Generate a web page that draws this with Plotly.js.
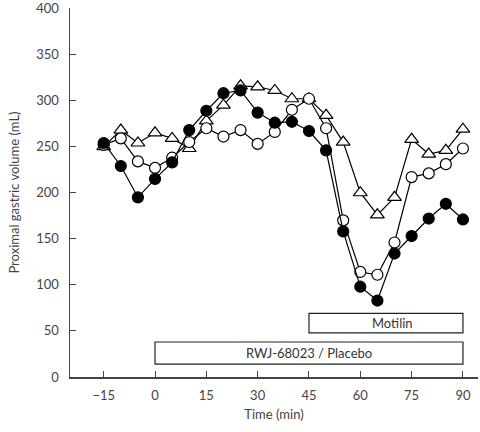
<!DOCTYPE html>
<html><head><meta charset="utf-8">
<script src="https://cdn.plot.ly/plotly-3.0.1.min.js"></script>
<style>html,body{margin:0;padding:0;background:#fff}</style>
</head><body><div id="chart" style="width:480px;height:432px"></div>
<script>
const time = [-15,-10,-5,0,5,10,15,20,25,30,35,40,45,50,55,60,65,70,75,80,85,90];
const filled = [254,229,195,215,233,268,289,308,311,287,276,277,267,246,158,98,83,134,153,172,188,171];
const open   = [252,259,234,227,238,255,270,261,268,253,266,290,302,270,170,114,111,146,217,221,231,248];
const tri    = [250,268,254,265,259,248,278,295,316,315,311,302,302,284,255,200,176,195,258,242,246,269];
const boxLabels = ["Motilin","RWJ-68023 / Placebo"];
const boxStart = [45, 0];
const boxEnd = [90, 90];
const boxLow = [48, 14];
const boxHigh = [69, 38];
const xTicks = [-15,0,15,30,45,60,75,90];
const xTickText = ["\u221215","0","15","30","45","60","75","90"];
const yTicks = [0,50,100,150,200,250,300,350,400];

const fontFam = "Lato, 'DejaVu Sans', sans-serif";
function tr(y, sym, fill) {
  return {x: time, y: y, type: 'scatter', mode: 'lines+markers',
    line: {color: '#000', width: 1.2},
    marker: {symbol: sym, size: sym.indexOf('triangle')===0 ? 12 : 11, color: fill, line: {color: '#000', width: 1.2}},
    hoverinfo: 'none', cliponaxis: false};
}
const data = [
  tr(tri, 'triangle-up', '#fff'),
  tr(open, 'circle', '#fff'),
  tr(filled, 'circle', '#000')
];
const shapes = boxLabels.map((l,i)=>({type:'rect', xref:'x', yref:'y', x0: boxStart[i], x1: boxEnd[i], y0: boxLow[i], y1: boxHigh[i], line:{color:'#222', width:1.2}, fillcolor:'#fff'}));
const annotations = boxLabels.map((l,i)=>({xref:'x', yref:'y', x:(boxStart[i]+boxEnd[i])/2 + (i===0?2:0), y:(boxLow[i]+boxHigh[i])/2, text:l, showarrow:false, font:{family:fontFam, size:13, color:'#333'}}));
const layout = {
  width: 480, height: 432,
  margin: {l: 70, r: 2, t: 8, b: 55},
  paper_bgcolor: '#fff', plot_bgcolor: '#fff',
  showlegend: false,
  font: {family: fontFam, size: 13, color: '#444'},
  xaxis: {range: [-24.85, 94.4], tickvals: xTicks, ticktext: xTickText, ticks: 'inside', ticklen: 6, tickcolor: '#444',
    showline: true, linecolor: '#444', linewidth: 1.5, showgrid: false, zeroline: false, ticklabelstandoff: 6,
    title: {text: 'Time (min)', font: {family: fontFam, size: 13, color: '#444'}, standoff: 8},
    tickfont: {family: fontFam, size: 13, color: '#444'}},
  yaxis: {range: [0, 400.5], tickvals: yTicks, ticks: 'inside', ticklen: 6, tickcolor: '#444',
    showline: true, linecolor: '#444', linewidth: 1.5, showgrid: false, zeroline: false, ticklabelstandoff: 7,
    title: {text: 'Proximal gastric volume (mL)', font: {family: fontFam, size: 13, color: '#444'}, standoff: 13},
    tickfont: {family: fontFam, size: 13, color: '#444'}},
  shapes: shapes,
  annotations: annotations
};
Plotly.newPlot('chart', data, layout, {displayModeBar: false, staticPlot: true});
</script></body></html>
